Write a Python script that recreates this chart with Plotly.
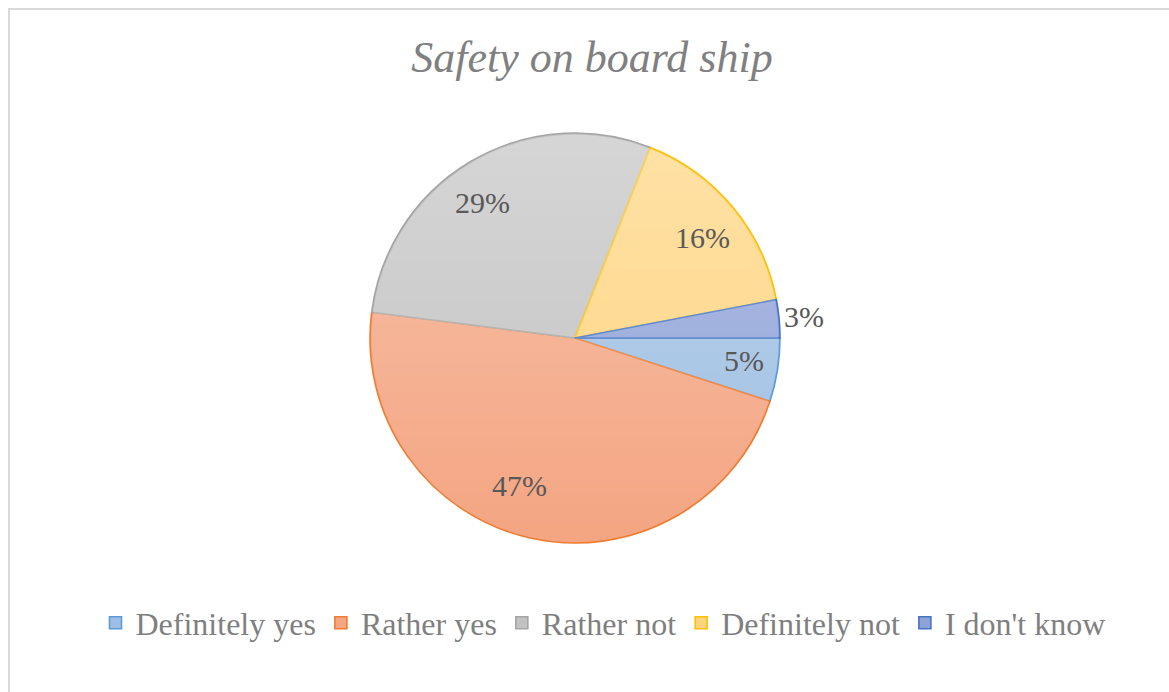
import math
import base64
import plotly.graph_objects as go

# Survey answers and their shares (percent)
categories = ["Definitely yes", "Rather yes", "Rather not", "Definitely not", "I don't know"]
shares = [5, 47, 29, 16, 3]

fill_colors = ["#9EBFE3", "#F4A582", "#C2C2C2", "#FFD47E", "#8FA2D8"]
line_colors = ["#5B9BD5", "#ED7D31", "#A5A5A5", "#FFC000", "#4472C4"]

SERIF = "Liberation Serif"

W, H = 1169, 692
CX, CY, R = 575, 338, 205  # pie centre and radius in pixels

# label placement: distance from centre (fraction of radius) and angular nudge (degrees)
label_radius = [0.83, 0.77, 0.80, 0.79, 1.12]
label_nudge = [-1.3, 8.0, -3.7, 1.4, 0.0]

fig = go.Figure()
fig.add_trace(go.Pie(
    labels=categories,
    values=shares,
    sort=False,
    direction="clockwise",
    rotation=90,
    textinfo="none",
    hoverinfo="label+percent",
    marker=dict(colors=fill_colors, line=dict(color=line_colors, width=1.6)),
    domain=dict(x=[(CX - R) / W, (CX + R) / W], y=[1 - (CY + R) / H, 1 - (CY - R) / H]),
))

# percentage labels placed along each slice's bisector
total = sum(shares)
cum = 0
annotations = []
for val, frac, nudge in zip(shares, label_radius, label_nudge):
    mid = (cum + val / 2) / total * 2 * math.pi + math.radians(nudge)
    cum += val
    px = CX + frac * R * math.cos(mid)
    py = CY + frac * R * math.sin(mid)
    annotations.append(dict(
        x=px / W, y=1 - py / H, xref="paper", yref="paper",
        xanchor="center", yanchor="middle",
        text=f"{round(val / total * 100)}%", showarrow=False,
        font=dict(family=SERIF, size=30, color="#595959"),
    ))

# soft light-to-clear sheen over the disc (lighter towards the top)
sheen_svg = (
    '<svg xmlns="http://www.w3.org/2000/svg" width="200" height="200" viewBox="0 0 200 200">'
    '<defs><linearGradient id="g" x1="0" y1="0" x2="0" y2="1">'
    '<stop offset="0" stop-color="#ffffff" stop-opacity="0.32"/>'
    '<stop offset="1" stop-color="#ffffff" stop-opacity="0"/>'
    '</linearGradient></defs>'
    '<circle cx="100" cy="100" r="99.2" fill="url(#g)"/></svg>'
)
sheen_src = "data:image/svg+xml;base64," + base64.b64encode(sheen_svg.encode()).decode()

fig.update_layout(
    width=W, height=H,
    margin=dict(l=0, r=0, t=0, b=0),
    font=dict(family=SERIF),
    paper_bgcolor="white",
    plot_bgcolor="white",
    title=dict(
        text="<i>Safety on board ship</i>",
        x=592 / W, xanchor="center", y=1 - 57 / H, yanchor="middle",
        font=dict(family=SERIF, size=44, color="#808080"),
    ),
    legend=dict(
        orientation="h", x=603 / W, xanchor="center", y=1 - 623 / H, yanchor="middle",
        font=dict(family=SERIF, size=32, color="#7F7F7F"),
        itemwidth=30, traceorder="normal",
    ),
    annotations=annotations,
    images=[dict(
        source=sheen_src, xref="paper", yref="paper",
        x=(CX - R) / W, y=1 - (CY - R) / H, sizex=2 * R / W, sizey=2 * R / H,
        xanchor="left", yanchor="top", sizing="stretch", layer="above",
    )],
    shapes=[dict(
        type="rect", xref="paper", yref="paper",
        x0=9 / W, x1=1.02, y0=-0.02, y1=1 - 9 / H,
        line=dict(color="#D9D9D9", width=2),
    )],
)

fig.write_html("out.html")
